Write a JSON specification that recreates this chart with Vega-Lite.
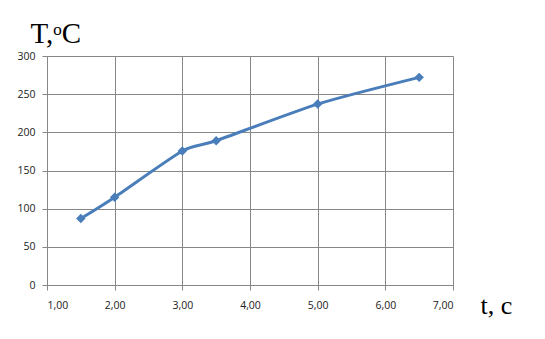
{
  "$schema": "https://vega.github.io/schema/vega-lite/v6.json",
  "autosize": "none",
  "width": 406,
  "height": 229,
  "padding": {"left": 47, "top": 56, "right": 92, "bottom": 54},
  "background": "white",
  "data": {"values": [
    {"t": 1.5, "T": 87},
    {"t": 2.0, "T": 115},
    {"t": 3.0, "T": 175.5},
    {"t": 3.5, "T": 189},
    {"t": 5.0, "T": 237},
    {"t": 6.5, "T": 272}
  ]},
  "config": {
    "view": {"stroke": null},
    "axis": {
      "gridColor": "#878787",
      "gridOpacity": 1,
      "domainColor": "#878787",
      "tickColor": "#878787",
      "tickSize": 5,
      "labelOverlap": false,
      "labelFont": "Open Sans",
      "labelFontSize": 10.5,
      "labelColor": "#222222",
      "titleFont": "Liberation Serif",
      "titleFontWeight": "normal",
      "titleColor": "#000000"
    }
  },
  "encoding": {
    "x": {"field": "t", "type": "quantitative",
      "scale": {"domain": [1, 7], "nice": false, "zero": false},
      "axis": {"values": [1, 2, 3, 4, 5, 6, 7], "labelExpr": "replace(format(datum.value, '.2f'), '.', ',')",
        "labelPadding": 10, "title": "t, c", "titleFontSize": 26,
        "titleAnchor": "start", "titleAlign": "left", "titleBaseline": "alphabetic",
        "titleX": 433, "titleY": 28}},
    "y": {"field": "T", "type": "quantitative",
      "scale": {"domain": [0, 300], "nice": false},
      "axis": {"values": [0, 50, 100, 150, 200, 250, 300], "labelPadding": 7,
        "title": "T,ᵒC", "titleAngle": 0, "titleFontSize": 29,
        "titleAlign": "left", "titleBaseline": "alphabetic", "titleX": -17, "titleY": -14}}
  },
  "layer": [
    {
      "mark": {"type": "line", "interpolate": "cardinal", "tension": 0.3, "color": "#4a7ebb", "strokeWidth": 3}
    },
    {
      "mark": {"type": "point", "shape": "diamond", "filled": true, "color": "#4a7ebb", "size": 90, "opacity": 1}
    }
  ]
}
